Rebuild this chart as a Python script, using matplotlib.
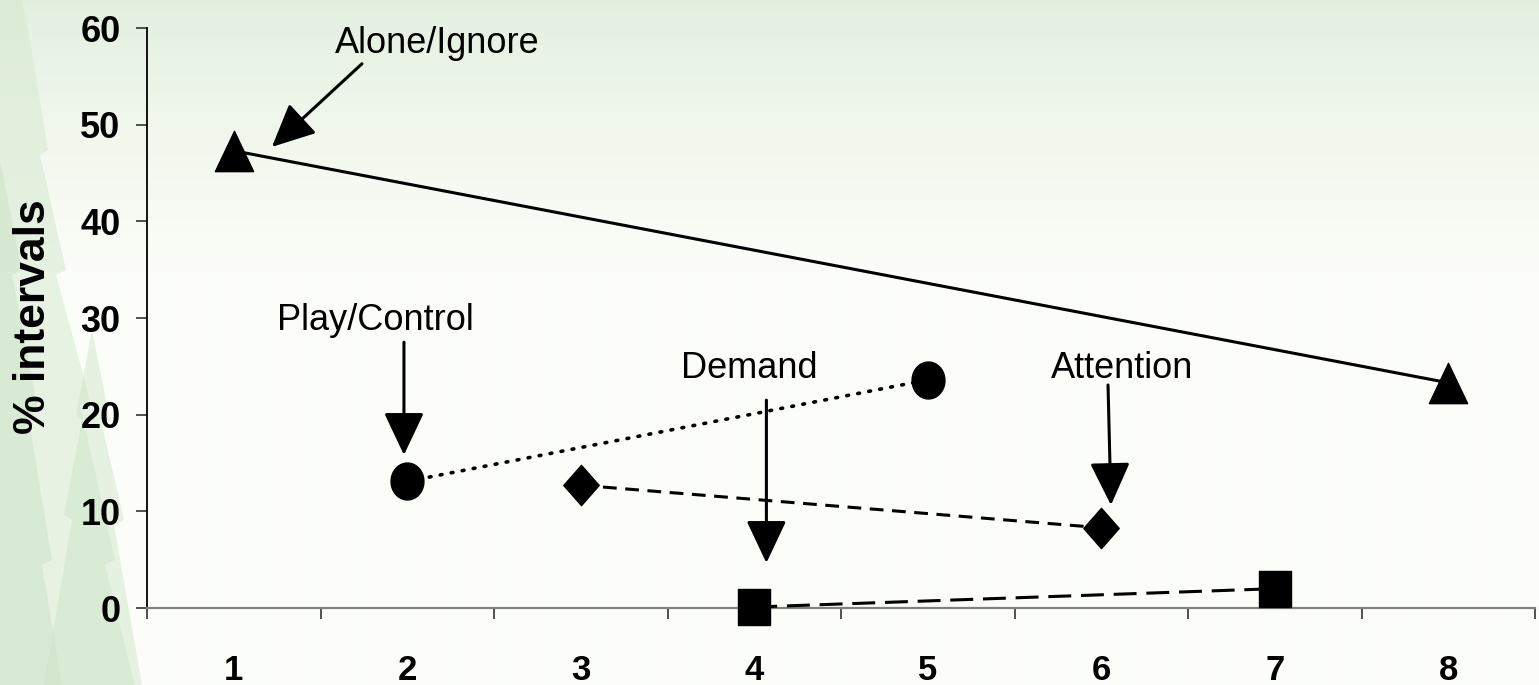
import numpy as np
import matplotlib
matplotlib.use("Agg")
import matplotlib.pyplot as plt
from matplotlib.path import Path
from matplotlib.patches import Polygon

# ---------------- data ----------------
categories = [1, 2, 3, 4, 5, 6, 7, 8]
tick_labels = ["1", "2", "3", "4", "5", "6", "7", "8"]
y_ticks = [0, 10, 20, 30, 40, 50, 60]

alone_x = [1, 8]
alone_y = [47.3, 23.3]
play_x = [2, 5]
play_y = [13.1, 23.6]
attention_x = [3, 6]
attention_y = [12.7, 8.3]
demand_x = [4, 7]
demand_y = [0.1, 2.0]

W, H = 1539, 685
plt.rcParams["font.family"] = ["Liberation Sans", "DejaVu Sans"]

fig = plt.figure(figsize=(W / 100, H / 100), dpi=100)

# ---------------- background ----------------
bg = fig.add_axes([0, 0, 1, 1], zorder=-10)
bg.set_xlim(0, W)
bg.set_ylim(H, 0)
bg.axis("off")
grad = np.zeros((H, 1, 3))
top = np.array([226, 239, 223]) / 255
low = np.array([252, 253, 248]) / 255
for r in range(H):
    if r < 270:
        t = (r / 270) ** 0.8
        grad[r, 0] = top * (1 - t) + low * t
    else:
        grad[r, 0] = low
bg.imshow(grad, extent=[0, W, H, 0], aspect="auto", interpolation="bilinear")

tree_shapes = [
    ([(0, 0), (22, 0), (30, 40), (48, 150), (40, 155), (66, 270), (56, 275),
      (90, 400), (80, 405), (115, 560), (105, 565), (135, 685), (0, 685)],
     (214, 233, 208), 0.55),
    ([(92, 330), (110, 420), (102, 425), (124, 520), (114, 525), (142, 685),
      (44, 685), (72, 520), (64, 515), (82, 420), (76, 415)],
     (204, 227, 198), 0.45),
    ([(0, 160), (22, 270), (12, 275), (38, 410), (28, 415), (52, 560),
      (42, 565), (62, 685), (0, 685)],
     (200, 225, 195), 0.45),
]
for verts, col, al in tree_shapes:
    bg.add_patch(Polygon(verts, closed=True, facecolor=np.array(col) / 255,
                         edgecolor="none", alpha=al))

# ---------------- main axes ----------------
ax = fig.add_axes([147 / W, 1 - 608 / H, 1388 / W, (608 - 28) / H])
ax.patch.set_alpha(0)
ax.set_xlim(0.5, 8.5)
ax.set_ylim(0, 60)

for s in ["top", "right"]:
    ax.spines[s].set_visible(False)
ax.spines["left"].set_color("black")
ax.spines["left"].set_linewidth(1.3)
ax.spines["bottom"].set_color("#808080")
ax.spines["bottom"].set_linewidth(1.6)

ax.set_yticks(y_ticks)
ax.set_yticklabels([str(v) for v in y_ticks], fontsize=26, fontweight="bold")
ax.tick_params(axis="y", direction="out", length=8, width=1.2, color="#333333", pad=11)

bounds = [c - 0.5 for c in categories] + [categories[-1] + 0.5]
ax.set_xticks(bounds)
ax.set_xticklabels([""] * len(bounds))
ax.tick_params(axis="x", which="major", direction="out", length=8, width=1.2, color="#333333")
ax.set_xticks(categories, minor=True)
ax.set_xticklabels(tick_labels, minor=True, fontsize=25, fontweight="bold")
ax.tick_params(axis="x", which="minor", length=0, pad=33)

fig.text(34 / W, 1 - 317 / H, "% intervals", rotation=90, ha="center", va="center",
         fontsize=32, fontweight="bold")

# custom markers (slightly taller than wide, as in the reference)
def closed(verts):
    verts = list(verts) + [verts[0]]
    codes = [Path.MOVETO] + [Path.LINETO] * (len(verts) - 2) + [Path.CLOSEPOLY]
    return Path(verts, codes)

tri_m = closed([(0, 1), (0.95, -1), (-0.95, -1)])
dia_m = closed([(0, 1), (0.88, 0), (0, -1), (-0.88, 0)])
sq_m = closed([(-0.89, -1), (0.89, -1), (0.89, 1), (-0.89, 1)])
tt = np.linspace(0, 2 * np.pi, 60, endpoint=False)
circ_m = closed(list(zip(0.89 * np.cos(tt), np.sin(tt))))

lw = 2.2
ax.plot(alone_x, alone_y, color="black", lw=lw, ls="-", zorder=3)
ax.plot(play_x, play_y, color="black", lw=2.6, ls=(0, (0.5, 2.6)),
        dash_capstyle="round", zorder=3)
ax.plot(attention_x, attention_y, color="black", lw=lw, ls=(0, (4.5, 2.8)), zorder=3)
ax.plot(demand_x, demand_y, color="black", lw=lw, ls=(0, (7.5, 3.2)), zorder=3)

ax.plot(alone_x, alone_y, ls="none", marker=tri_m, ms=29, color="black", zorder=5, clip_on=False)
ax.plot(play_x, play_y, ls="none", marker=circ_m, ms=26.6, color="black", zorder=5, clip_on=False)
ax.plot(attention_x, attention_y, ls="none", marker=dia_m, ms=29, color="black", zorder=5, clip_on=False)
ax.plot(demand_x, demand_y, ls="none", marker=sq_m, ms=26, color="black", zorder=5, clip_on=False)

# ---------------- annotations ----------------
arrow_kw = dict(arrowstyle="-|>,head_length=2.65,head_width=1.25", mutation_scale=10,
                color="black", lw=2.2, shrinkA=0, shrinkB=0)

ax.text(2.171, 57.4, "Alone/Ignore", fontsize=26, ha="center", va="baseline", zorder=6)
ax.annotate("", xy=(1.22, 47.7), xytext=(1.739, 56.3), arrowprops=arrow_kw, zorder=6)

ax.text(1.814, 28.76, "Play/Control", fontsize=26, ha="center", va="baseline", zorder=6)
ax.annotate("", xy=(1.981, 15.83), xytext=(1.981, 27.5), arrowprops=arrow_kw, zorder=6)

ax.text(3.97, 23.79, "Demand", fontsize=26, ha="center", va="baseline", zorder=6)
ax.annotate("", xy=(4.07, 4.66), xytext=(4.07, 21.5), arrowprops=arrow_kw, zorder=6)

ax.text(6.12, 23.79, "Attention", fontsize=26, ha="center", va="baseline", zorder=6)
ax.annotate("", xy=(6.056, 10.65), xytext=(6.039, 23.07), arrowprops=arrow_kw, zorder=6)

fig.savefig("out.png", dpi=100)
